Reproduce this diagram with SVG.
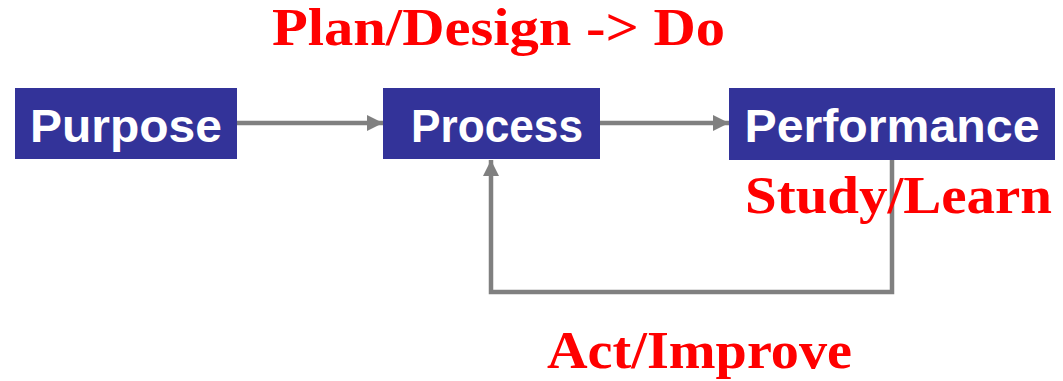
<svg xmlns="http://www.w3.org/2000/svg" width="1063" height="381" viewBox="0 0 1063 381">
<style>
.box{fill:#333399}
.lbl{font-family:"Liberation Sans",Arial,sans-serif;font-weight:bold;font-size:46px;fill:#ffffff}
.red{font-family:"Liberation Serif","Times New Roman",serif;font-weight:bold;font-size:52px;fill:#ff0000}
.conn{fill:none;stroke:#808080;stroke-width:4.5}
</style>
<defs>
<marker id="ah" viewBox="0 0 10 10" refX="10" refY="5" markerWidth="3.6" markerHeight="3.6" orient="auto" markerUnits="strokeWidth">
<path d="M0,0 L10,5 L0,10 z" fill="#808080"/>
</marker>
</defs>
<rect width="1063" height="381" fill="#ffffff"/>
<g id="connectors">
<line class="conn" x1="237" y1="123" x2="383" y2="123" marker-end="url(#ah)"/>
<line class="conn" x1="600" y1="123" x2="729" y2="123" marker-end="url(#ah)"/>
<polyline class="conn" points="892,160 892,292 491,292 491,160" marker-end="url(#ah)"/>
</g>
<g id="purpose">
<rect class="box" x="15" y="88" width="222" height="71"/>
<text class="lbl" x="126" y="142" text-anchor="middle" textLength="192" lengthAdjust="spacingAndGlyphs">Purpose</text>
</g>
<g id="process">
<rect class="box" x="383" y="88" width="217" height="71"/>
<text class="lbl" x="497" y="142" text-anchor="middle" textLength="172" lengthAdjust="spacingAndGlyphs">Process</text>
</g>
<g id="performance">
<rect class="box" x="729" y="88" width="326" height="72"/>
<text class="lbl" x="892" y="142" text-anchor="middle" textLength="295" lengthAdjust="spacingAndGlyphs">Performance</text>
</g>
<g id="labels">
<text class="red" x="272" y="45" textLength="453" lengthAdjust="spacingAndGlyphs">Plan/Design -&gt; Do</text>
<text class="red" x="745" y="213" textLength="307" lengthAdjust="spacingAndGlyphs">Study/Learn</text>
<text class="red" x="547" y="368" textLength="305" lengthAdjust="spacingAndGlyphs">Act/Improve</text>
</g>
</svg>
